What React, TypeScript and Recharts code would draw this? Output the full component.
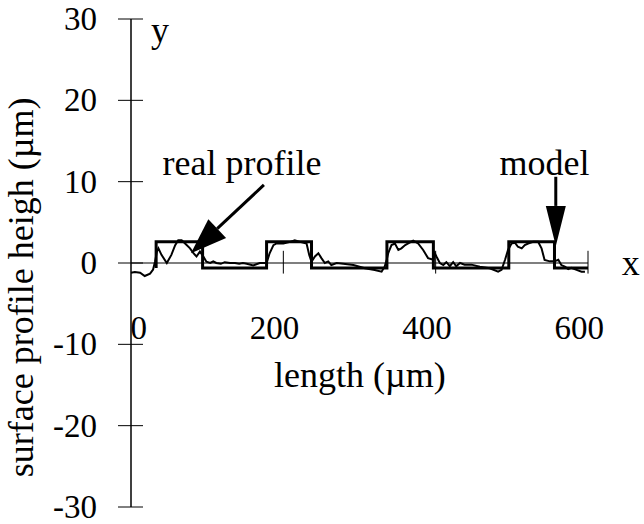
import { LineChart, Line, XAxis, YAxis, ReferenceLine, ReferenceDot } from 'recharts'

const FONT = '"Liberation Serif", "Times New Roman", serif'

// measured surface profile, [length µm, height µm]
const realProfile: [number, number][] = [
  [0, -1.2], [5, -1.1], [12, -1.2], [18, -1.6], [25, -1.3], [29, -0.8], [31.5, 0.15], [34, 1.4],
  [36, 1.8], [40, 1.0], [47, 0], [53, 1.0], [58, 2.2], [62, 2.8], [66.5, 2.8], [71, 2.4],
  [77.5, 1.8], [82, 1.2], [86, 0.8], [90.5, 1.4], [95, 0.8], [99, 0.15], [104, 0], [108, 0.2],
  [112, 0], [118, -0.1], [123, 0.1], [130, 0], [136.5, 0], [142, -0.1], [147, 0], [152, -0.1],
  [160.5, -0.3], [169, 0], [178, 0], [182, 1.2], [187, 2.2], [191, 2.4], [200, 2.4], [209, 2.6],
  [215, 2.8], [222, 2.6], [230.5, 2.4], [234, 1.0], [237, 0.15], [241.5, 0.8], [246, 1.2], [250, 0.6],
  [254.5, 0], [259, 0.2], [263, -0.25], [270, 0], [278.6, -0.1], [292, -0.25], [307, -0.65], [320, -0.85],
  [329, -1.07], [333, -0.45], [335.6, 0.37], [337.7, 1.2], [342, 2.2], [346.5, 2.4], [351, 1.6], [355, 1.8],
  [360, 2.2], [364, 2.4], [370.5, 2.75], [377, 2.4], [383.6, 1.6], [390, 0.6], [397, 0.4], [399, 1.2],
  [401, 0.8], [405.5, 0], [410, -0.25], [414, 0.1], [418.6, -0.4], [423, 0.1], [427, -0.4], [432, 0],
  [438, -0.2], [447, -0.2], [458, -0.45], [471, -0.65], [482, -1.07], [486.5, -0.85], [491, 0.37], [495, 1.6],
  [499.6, 2.4], [504, 2.5], [508, 2.0], [513, 1.8], [517, 2.2], [521.4, 2.4], [528, 2.6], [534.5, 2.6],
  [539, 1.8], [543, 0.37], [550, 0.2], [556, 0.2], [561, 0.4], [565, -0.25], [569.6, -0.45], [574, -0.75],
  [578, -0.6], [585, -0.85], [591.5, -1.07], [596, -1.07],
]

// square-wave model: edges (length) and the two levels
const modelEdges = [33, 94, 178, 237, 336, 397, 496, 556]
const modelHigh = 2.6
const modelLow = -0.6
const modelEnd = 600

const xTicks = [0, 200, 400, 600]
const yTicks = [-30, -20, -10, 0, 10, 20, 30]

const profileData = realProfile.map(([x, y]) => ({ x, y }))

const modelData: { x: number; y: number }[] = []
modelEdges.forEach((e, i) => {
  const up = i % 2 === 0
  modelData.push({ x: e, y: up ? modelLow : modelHigh })
  modelData.push({ x: e, y: up ? modelHigh : modelLow })
})
modelData.push({ x: modelEnd, y: modelLow })

const textStyle = { fontFamily: FONT, fontSize: 36, fill: '#000' }
const tickStyle = { fontFamily: FONT, fontSize: 33, fill: '#000' }

function YTick(props: any) {
  const { x, y, payload } = props
  return (
    <g>
      <line x1={x - 13} y1={y} x2={x + 12} y2={y} stroke="#000" strokeWidth={1} />
      <text x={x - 34} y={y} textAnchor="end" dominantBaseline="central" {...tickStyle}>
        {payload.value}
      </text>
    </g>
  )
}

function textShape(str: string, anchor: string = 'middle', dx = 0, rotate = false, style: any = textStyle) {
  return (p: any) => (
    <text
      x={p.cx + dx}
      y={p.cy}
      textAnchor={anchor}
      dominantBaseline="central"
      transform={rotate ? `rotate(-90 ${p.cx + dx} ${p.cy})` : undefined}
      {...style}
    >
      {str}
    </text>
  )
}

function arrowShape(headLen: number, headWidth: number) {
  return (p: any) => {
    const { x1, y1, x2, y2 } = p
    const dx = x2 - x1
    const dy = y2 - y1
    const len = Math.sqrt(dx * dx + dy * dy)
    const ux = dx / len
    const uy = dy / len
    const bx = x2 - ux * headLen
    const by = y2 - uy * headLen
    const px = -uy * headWidth / 2
    const py = ux * headWidth / 2
    return (
      <g>
        <line x1={x1} y1={y1} x2={bx} y2={by} stroke="#000" strokeWidth={3} />
        <polygon points={`${x2},${y2} ${bx + px},${by + py} ${bx - px},${by - py}`} fill="#000" />
      </g>
    )
  }
}

export default function App() {
  return (
    <div style={{ position: 'absolute', left: 0, top: 0, background: '#fff' }}>
      <LineChart width={644} height={524} margin={{ top: 19, right: 56, bottom: 17, left: 0 }}>
        <XAxis dataKey="x" type="number" domain={[0, 600]} ticks={xTicks} hide height={0} />
        <YAxis
          type="number"
          domain={[-30, 30]}
          ticks={yTicks}
          width={131}
          tickSize={0}
          tickMargin={0}
          tickLine={false}
          axisLine={{ stroke: '#000', strokeWidth: 1.5 }}
          tick={<YTick />}
          interval={0}
        />
        <ReferenceLine y={0} stroke="#000" strokeWidth={1.2} />
        {xTicks.slice(1).map((t) => (
          <ReferenceLine
            key={`xt${t}`}
            segment={[{ x: t, y: -1.3 }, { x: t, y: 1.5 }]}
            stroke="#000"
            strokeWidth={1}
          />
        ))}
        {xTicks.map((t) => (
          <ReferenceDot
            key={`xl${t}`}
            x={t}
            y={-8}
            r={0}
            ifOverflow="visible"
            shape={textShape(String(t), 'end', 16, false, tickStyle)}
          />
        ))}
        <Line
          data={profileData}
          dataKey="y"
          type="linear"
          stroke="#000"
          strokeWidth={2}
          dot={false}
          isAnimationActive={false}
        />
        <Line
          data={modelData}
          dataKey="y"
          type="linear"
          stroke="#000"
          strokeWidth={3}
          dot={false}
          isAnimationActive={false}
        />
        <ReferenceLine
          segment={[{ x: 174.5, y: 9.6 }, { x: 78.7, y: 1.2 }]}
          ifOverflow="visible"
          shape={arrowShape(36, 26)}
        />
        <ReferenceLine
          segment={[{ x: 557.7, y: 10.6 }, { x: 557.7, y: 2.1 }]}
          ifOverflow="visible"
          shape={arrowShape(40, 20)}
        />
        <ReferenceDot x={145.7} y={12.3} r={0} ifOverflow="visible" shape={textShape('real profile')} />
        <ReferenceDot x={543} y={12.3} r={0} ifOverflow="visible" shape={textShape('model')} />
        <ReferenceDot x={300.5} y={-13.8} r={0} ifOverflow="visible" shape={textShape('length (µm)')} />
        <ReferenceDot x={38} y={28.6} r={0} ifOverflow="visible" shape={textShape('y')} />
        <ReferenceDot x={656} y={0} r={0} ifOverflow="visible" shape={textShape('x')} />
        <ReferenceDot
          x={-144}
          y={-3}
          r={0}
          ifOverflow="visible"
          shape={textShape('surface profile heigh (µm)', 'middle', 0, true)}
        />
      </LineChart>
    </div>
  )
}
